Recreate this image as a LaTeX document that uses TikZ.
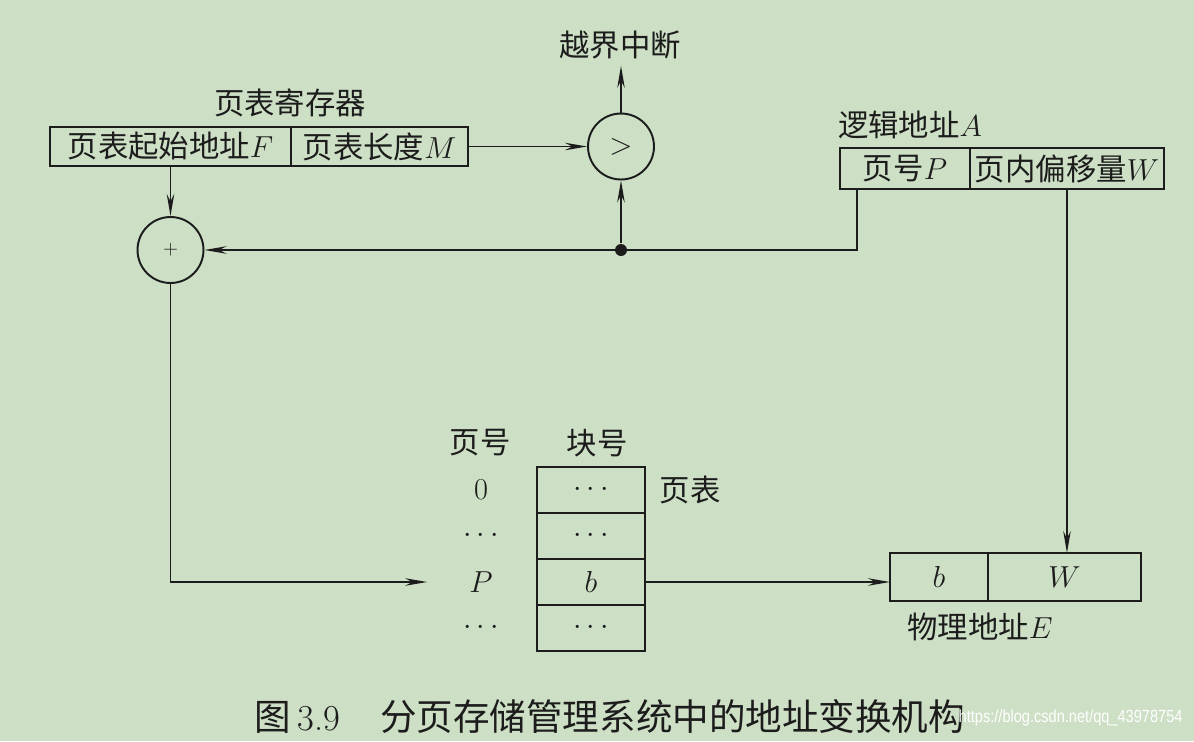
\documentclass[tikz,border=0pt]{standalone}
\usepackage{fontspec}
\usepackage{tikz}
\usetikzlibrary{arrows.meta, positioning, calc}
\newfontfamily\cjk{Noto Sans CJK SC}
\newfontfamily\wmfont{Liberation Sans}
\definecolor{paper}{HTML}{CDDFC5}
\definecolor{ink}{HTML}{1C1C1C}
\definecolor{mark}{HTML}{FFFFFF}

\begin{document}
\begin{tikzpicture}[x=0.02cm, y=-0.02cm, color=ink, line width=1pt,
  font=\fontsize{17.3pt}{19pt}\selectfont\cjk,
  >={Stealth[length=0.44cm, width=0.15cm]},
  cell/.style={draw, line width=0.8pt, outer sep=0pt, inner sep=0pt},
  ring/.style={circle, draw, line width=1.1pt, minimum size=1.32cm, inner sep=0pt}]
  \useasboundingbox (0,0) rectangle (1194,741);
  \fill[paper] (0,0) rectangle (1194,741);
  % page table register
  \node (regname) at (290,103) {页表寄存器};
  \node[cell, minimum width=4.82cm, minimum height=0.78cm] (fcell) at (170.5,146.5) {页表起始地址$F$};
  \node[cell, minimum width=3.54cm, minimum height=0.78cm, right=0pt of fcell] (mcell) {页表长度$M$};
  \draw[line width=1.4pt] (fcell.north west) rectangle (mcell.south east);
  % comparator and adder
  \node[ring] (cmp) at (621,146.5) {\fontsize{19pt}{20pt}\selectfont$>$};
  \node (intr) at (620,45) {越界中断};
  \node[ring] (plus) at (170.5,250) {\fontsize{11pt}{12pt}\selectfont$+$};
  \node[circle, fill=ink, inner sep=0pt, minimum size=0.24cm] (dot) at (cmp |- plus) {};
  % logical address
  \node (laddr) at (910,125) {逻辑地址$A$};
  \node[cell, minimum width=2.6cm, minimum height=0.82cm] (pcell) at (905,168.5) {页号$P$};
  \node[cell, minimum width=3.88cm, minimum height=0.82cm, right=0pt of pcell] (wcell) {页内偏移量$W$};
  \draw[line width=1.4pt] (pcell.north west) rectangle (wcell.south east);
  % page table
  \node (hpage) at (480,443) {页号};
  \node (hblock) at (597,443) {块号};
  \foreach \t [count=\i from 0] in {$\cdots$, $\cdots$, $b$, $\cdots$}
    \node[cell, minimum width=2.16cm, minimum height=0.92cm] (r\i) at (591,{490+46*\i}) {\t};
  \foreach \t [count=\i from 0] in {$0$, $\cdots$, $P$, $\cdots$}
    \node[minimum width=2.12cm] (l\i) at (481,{490+46*\i}) {\t};
  \draw[line width=1.4pt] (r0.north west) rectangle (r3.south east);
  \node[right=0.16cm of r0] (ptname) {页表};
  % physical address
  \node[cell, minimum width=1.96cm, minimum height=0.96cm] (physb) at (939,577) {$b$};
  \node[cell, minimum width=3.06cm, minimum height=0.96cm, right=0pt of physb] (physw) {$W$};
  \draw[line width=1.4pt] (physb.north west) rectangle (physw.south east);
  \node (eaddr) at (980,627) {物理地址$E$};
  % connectors
  \draw[->] (fcell.south) -- (plus.north);
  \draw[->] (mcell.east) -- (cmp.west);
  \draw[->] (cmp.north) -- (cmp.north |- intr.south);
  \draw[->] (dot) -- (cmp.south);
  \draw[->] ([xshift=0.34cm]pcell.south west) |- (plus.east);
  \draw[->] (wcell.south) -- (wcell.south |- physw.north);
  \draw[->] (plus.south) |- (l2.west);
  \draw[->] (r2.east) -- (r2.east -| physb.west);
  % caption
  \node[anchor=west, font=\fontsize{20.8pt}{22pt}\selectfont\cjk] (cap) at (248,716)
    {图\,{\rmfamily 3.9}\hspace{1.1em}分页存储管理系统中的地址变换机构};
  \node[anchor=west, text=mark, font=\fontsize{10pt}{11pt}\selectfont\wmfont] (wm) at (952,718)
    {\scalebox{0.83}[1]{https://blog.csdn.net/qq\_43978754}};
\end{tikzpicture}
\end{document}
